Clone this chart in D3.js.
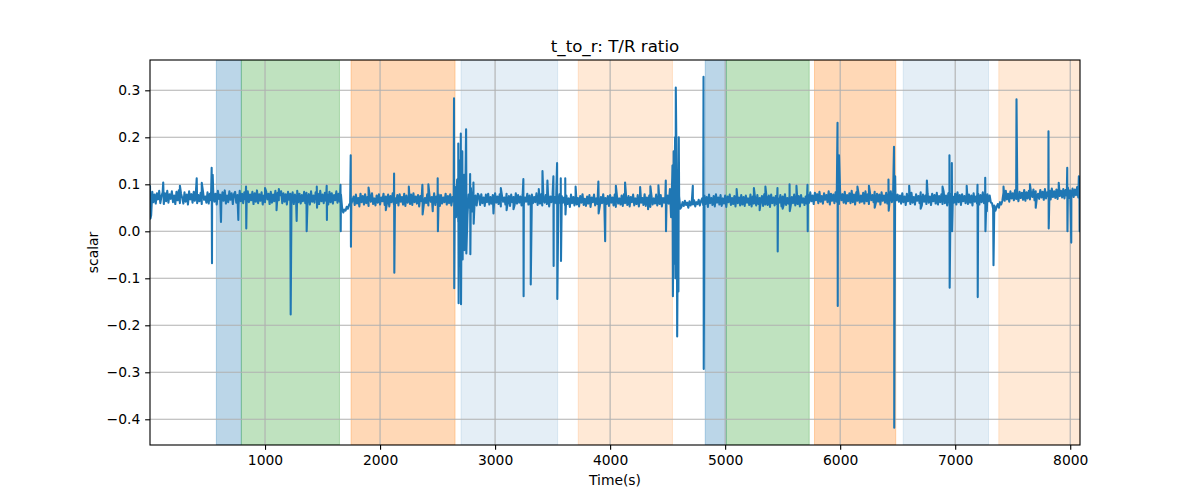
<!DOCTYPE html>
<html><head><meta charset="utf-8">
<script src="https://cdn.jsdelivr.net/npm/d3@7"></script>
<style>body{margin:0;background:#fff} text{font-family:"DejaVu Sans",sans-serif}</style>
</head><body><svg id="c" width="1200" height="500"></svg>
<script>
// ---- data ----
const title = "t_to_r: T/R ratio";
const xLabel = "Time(s)";
const yLabel = "scalar";
const baseStep = 10; // seconds between baseline samples
const baseline = [
// 0-530
.098,.034,.084,.062,.078,.059,.081,.068,.086,.060,
.075,.083,.058,.081,.064,.086,.061,.079,.069,.085,
.062,.076,.058,.084,.066,.087,.060,.080,.071,.059,
.083,.063,.078,.057,.085,.068,.079,.061,.084,.065,
.088,.060,.077,.064,.082,.058,.086,.067,.074,.061,
.083,.059,.080,.066,
// 540-1690
.058,.084,.063,.080,.057,.086,.069,.078,.060,.083,
.065,.087,.059,.076,.062,.085,.067,.081,.058,.079,
.084,.061,.077,.057,.086,.064,.080,.060,.083,.068,
.059,.085,.062,.078,.066,.084,.058,.081,.063,.087,
.060,.079,.065,.083,.057,.076,.062,.085,.068,.080,
.058,.084,.061,.078,.064,.086,.059,.082,.066,.077,
.085,.060,.081,.063,.079,.057,.084,.067,.080,.061,
.083,.058,.078,.065,.086,.062,.080,.059,.077,.064,
.084,.060,.082,.066,.079,.057,.085,.063,.076,.061,
.083,.068,.080,.058,.086,.064,.078,.060,.082,.065,
.079,.057,.084,.062,.081,.059,.077,.066,.085,.061,
.080,.063,.078,.050,.040,.046,
// 1700-1760
.044,.052,.048,.056,.060,.058,.066,
// 1770-2640
.074,.056,.078,.059,.071,.053,.080,.062,.075,.057,
.079,.060,.073,.054,.077,.063,.081,.058,.070,.055,
.076,.061,.079,.057,.072,.064,.080,.056,.074,.059,
.078,.053,.075,.062,.081,.058,.071,.060,.077,.055,
.079,.063,.073,.057,.080,.054,.076,.061,.072,.058,
.078,.056,.081,.062,.074,.059,.077,.053,.075,.064,
.080,.057,.071,.060,.079,.055,.076,.063,.073,.058,
.081,.056,.074,.061,.078,.054,.077,.059,.072,.062,
.080,.057,.075,.060,.079,.055,.073,.063,
// 2650-2850
.095,.030,.110,.020,.090,.040,.120,.025,.085,.045,
.100,.035,.078,.050,.092,.042,.082,.052,.076,.055,.080,
// 2860-3590
.075,.056,.079,.060,.072,.054,.078,.062,.080,.057,
.073,.059,.077,.055,.081,.061,.074,.058,.079,.053,
.076,.063,.072,.057,.080,.060,.075,.054,.078,.062,
.073,.056,.081,.059,.077,.061,.074,.055,.079,.058,
.072,.063,.080,.057,.076,.054,.078,.060,.073,.062,
.081,.056,.075,.059,.079,.055,.072,.061,.077,.058,
.080,.053,.074,.062,.078,.057,.073,.060,.076,.056,
.079,.059,.075,.061,
// 3600-4510
.072,.054,.076,.058,.070,.052,.078,.060,.073,.055,
.077,.057,.071,.053,.075,.061,.079,.056,.069,.054,
.074,.059,.077,.052,.072,.062,.078,.055,.070,.058,
.076,.053,.073,.060,.079,.056,.071,.058,.075,.054,
.077,.061,.072,.055,.078,.052,.074,.059,.070,.057,
.076,.054,.079,.060,.072,.056,.075,.053,.073,.062,
.078,.055,.070,.058,.077,.053,.074,.061,.071,.056,
.079,.054,.072,.060,.076,.052,.075,.057,.070,.059,
.078,.055,.073,.058,.077,.053,.071,.061,.074,.056,
.076,.059,
// 4520-4610
.090,.030,.115,.025,.100,.035,.085,.040,.075,.048,
// 4620-4790
.052,.062,.054,.065,.056,.061,.050,.064,.055,.063,
.057,.066,.053,.062,.058,.067,.055,.064,
// 4800-5710
.070,.055,.076,.058,.073,.052,.078,.060,.071,.056,
.075,.053,.079,.061,.072,.057,.077,.054,.070,.059,
.076,.052,.074,.062,.078,.056,.071,.058,.075,.053,
.079,.060,.072,.055,.077,.057,.073,.054,.076,.061,
.070,.056,.078,.053,.074,.059,.072,.055,.077,.058,
.071,.062,.075,.054,.079,.057,.073,.056,.076,.052,
.078,.060,.072,.055,.075,.058,.070,.061,.077,.053,
.074,.057,.079,.056,.071,.059,.076,.054,.073,.060,
.078,.055,.072,.058,.075,.053,.077,.061,.070,.056,
.074,.059,
// 5720-6510
.078,.061,.083,.064,.076,.058,.082,.066,.079,.060,
.084,.063,.075,.059,.081,.067,.077,.062,.085,.057,
.080,.065,.078,.060,.083,.063,.076,.058,.082,.066,
.079,.061,.084,.059,.077,.064,.081,.060,.086,.062,
.078,.057,.083,.065,.080,.061,.076,.063,.082,.059,
.085,.064,.079,.058,.081,.066,.077,.062,.084,.060,
.080,.063,.078,.057,.083,.065,.076,.061,.082,.059,
.079,.064,.085,.062,.077,.060,.081,.066,.078,.063,
// 6520-7310
.076,.059,.081,.062,.074,.056,.080,.064,.077,.058,
.082,.061,.073,.057,.079,.065,.075,.060,.083,.055,
.078,.063,.076,.058,.081,.061,.074,.056,.080,.064,
.077,.059,.082,.057,.075,.062,.079,.058,.084,.060,
.076,.055,.081,.063,.078,.059,.074,.061,.080,.057,
.083,.062,.077,.056,.079,.064,.075,.060,.082,.058,
.078,.061,.076,.055,.081,.063,.074,.059,.080,.057,
.077,.062,.083,.060,.075,.058,.079,.064,.076,.061,
// 7320-7410
.060,.048,.055,.044,.052,.058,.050,.062,.057,.065,
// 7420-8080
.082,.065,.086,.068,.080,.063,.085,.070,.081,.066,
.087,.069,.079,.064,.084,.071,.082,.067,.088,.065,
.083,.070,.086,.068,.081,.073,.089,.066,.085,.071,
.080,.069,.088,.072,.084,.067,.090,.070,.083,.074,
.087,.068,.091,.073,.085,.071,.089,.069,.092,.075,
.086,.072,.090,.070,.088,.076,.093,.071,.087,.074,
.091,.073,.089,.077,.094,.072,.088
];
// isolated excursions: [time, value]
const spikes = [
[4,.027],[115,.104],[260,.097],[406,.113],[450,.103],
[536,.135],[539,-.068],[545,.120],[617,.020],[768,.024],[835,.095],[837,.006],
[1000,.092],[1100,.045],[1120,.090],[1223,-.177],[1275,.022],[1362,.000],[1450,.095],[1452,.050],
[1536,.097],[1538,.024],[1656,.099],[1658,.000],[1745,.162],[1747,-.033],
[1900,.093],[2050,.045],[2122,.123],[2124,-.088],[2250,.095],[2368,.099],[2370,.036],
[2420,.100],[2458,.043],[2501,.113],[2503,.000],
[2643,.283],[2645,-.121],[2680,.187],[2683,-.153],[2692,.150],[2695,-.070],
[2702,.208],[2704,-.155],[2715,.170],[2718,-.060],[2730,.120],[2733,-.040],
[2748,.217],[2750,-.047],[2783,.122],[2785,-.049],[2812,.104],[2814,.016],
[2986,.038],[3050,.092],[3100,.045],[3160,.047],[3246,.111],[3248,-.138],[3310,-.113],
[3380,.090],[3412,.128],[3455,.108],[3507,.117],[3509,-.074],[3539,.145],[3541,-.144],
[3571,.113],[3573,-.063],[3610,.113],[3612,.036],[3700,.095],
[3898,.106],[3900,.038],[3957,-.021],[4050,.097],[4130,.104],[4261,.094],
[4330,.047],[4350,.096],[4420,.098],[4484,.108],[4486,.000],
[4542,.140],[4546,-.138],[4552,.170],[4555,-.069],[4565,.200],[4568,-.100],
[4571,.306],[4583,-.224],[4594,-.128],[4597,.200],[4719,.097],
[4812,.329],[4814,-.293],[5100,.090],[5250,.092],[5300,.045],[5350,.095],
[5455,.092],[5457,-.043],[5500,.048],[5560,.100],[5562,.043],[5620,.097],
[5716,.099],[5718,.000],[5977,.231],[5979,-.159],[5990,.162],
[6150,.095],[6250,.097],[6300,.050],[6420,.110],[6422,.044],
[6468,.180],[6470,-.418],[6478,.117],[6600,.097],[6700,.048],[6754,.108],[6890,.095],
[6950,.162],[6952,-.120],[6971,.145],[6973,.000],[7100,.097],
[7194,.099],[7196,-.140],[7261,.114],[7263,.000],[7275,.043],[7333,-.072],
[7420,.095],[7533,.281],[7650,.100],[7700,.050],[7811,.213],[7813,.006],[7900,.103],
[7974,.135],[7976,.000],[8009,-.024],[8075,.117],[8082,.000],[8085,.084]
];
// shaded phases
const spanStart = [577, 794, 1748, 2704, 3723, 4827, 5010, 5777, 6548, 7379];
const spanEnd   = [794, 1647, 2652, 3544, 4542, 5010, 5731, 6483, 7290, 8085];
const spanKind  = ["A","B","C","D","E","A","B","C","D","E"];
const xTicks = [1000,2000,3000,4000,5000,6000,7000,8000];
const yTicks = [-0.4,-0.3,-0.2,-0.1,0.0,0.1,0.2,0.3];
const xDomain = [0, 8085];
const yDomain = [-0.4547, 0.3645];

// ---- styles ----
const spanStyle = {
  A: {color:"#1f77b4", alpha:0.3},
  B: {color:"#2ca02c", alpha:0.3},
  C: {color:"#ff7f0e", alpha:0.3},
  D: {color:"#1f77b4", alpha:0.12},
  E: {color:"#ff7f0e", alpha:0.17}
};
const M = {left:150, right:1080, top:60, bottom:445};
const PT = 100/72;

const svg = d3.select("#c");
const x = d3.scaleLinear().domain(xDomain).range([M.left, M.right]);
const y = d3.scaleLinear().domain(yDomain).range([M.bottom, M.top]);

svg.append("defs").append("clipPath").attr("id","clip")
  .append("rect").attr("x",M.left).attr("y",M.top)
  .attr("width",M.right-M.left).attr("height",M.bottom-M.top);

// spans
const spans = spanStart.map((s,i)=>({s, e:spanEnd[i], k:spanKind[i]}));
svg.append("g").attr("clip-path","url(#clip)").selectAll("rect").data(spans).join("rect")
  .attr("x", d=>x(d.s)).attr("width", d=>x(d.e)-x(d.s))
  .attr("y", M.top).attr("height", M.bottom-M.top)
  .attr("fill", d=>spanStyle[d.k].color).attr("fill-opacity", d=>spanStyle[d.k].alpha)
  .attr("stroke", d=>spanStyle[d.k].color).attr("stroke-opacity", d=>spanStyle[d.k].alpha)
  .attr("stroke-width", 1);

// grid
const grid = svg.append("g").attr("stroke","#b0b0b0").attr("stroke-width",0.8*PT);
grid.selectAll("line.gx").data(xTicks).join("line").attr("class","gx")
  .attr("x1",d=>x(d)).attr("x2",d=>x(d)).attr("y1",M.top).attr("y2",M.bottom);
grid.selectAll("line.gy").data(yTicks).join("line").attr("class","gy")
  .attr("y1",d=>y(d)).attr("y2",d=>y(d)).attr("x1",M.left).attr("x2",M.right);

// line
const pts = baseline.map((v,i)=>[i*baseStep, v]).concat(spikes).sort((a,b)=>a[0]-b[0]);
svg.append("path").attr("clip-path","url(#clip)")
  .datum(pts)
  .attr("d", d3.line().x(d=>x(d[0])).y(d=>y(d[1])))
  .attr("fill","none").attr("stroke","#1f77b4").attr("stroke-width",1.5*PT)
  .attr("stroke-linejoin","round");

// axes
const fs = 10*PT;
const xa = svg.append("g").attr("transform",`translate(0,${M.bottom})`)
  .call(d3.axisBottom(x).tickValues(xTicks).tickFormat(d3.format("d"))
    .tickSize(3.5*PT).tickPadding(3.5*PT).tickSizeOuter(0));
const ya = svg.append("g").attr("transform",`translate(${M.left},0)`)
  .call(d3.axisLeft(y).tickValues(yTicks).tickFormat(d3.format(".1f"))
    .tickSize(3.5*PT).tickPadding(3.5*PT).tickSizeOuter(0));
[xa, ya].forEach(g=>{
  g.select(".domain").remove();
  g.selectAll(".tick line").attr("stroke","#000").attr("stroke-width",0.8*PT);
  g.selectAll(".tick text").attr("fill","#000").style("font-size",fs+"px")
   .style("font-family","DejaVu Sans");
});

// frame
svg.append("rect").attr("x",M.left).attr("y",M.top)
  .attr("width",M.right-M.left).attr("height",M.bottom-M.top)
  .attr("fill","none").attr("stroke","#000").attr("stroke-width",0.8*PT);

// labels
svg.append("text").attr("x",(M.left+M.right)/2).attr("y",M.top-8.3)
  .attr("text-anchor","middle").style("font-size",(12*PT)+"px").text(title);
svg.append("text").attr("x",(M.left+M.right)/2).attr("y",485)
  .attr("text-anchor","middle").style("font-size",fs+"px").text(xLabel);
svg.append("text").attr("transform",`translate(98,${(M.top+M.bottom)/2}) rotate(-90)`)
  .attr("text-anchor","middle").style("font-size",fs+"px").text(yLabel);
</script></body></html>
